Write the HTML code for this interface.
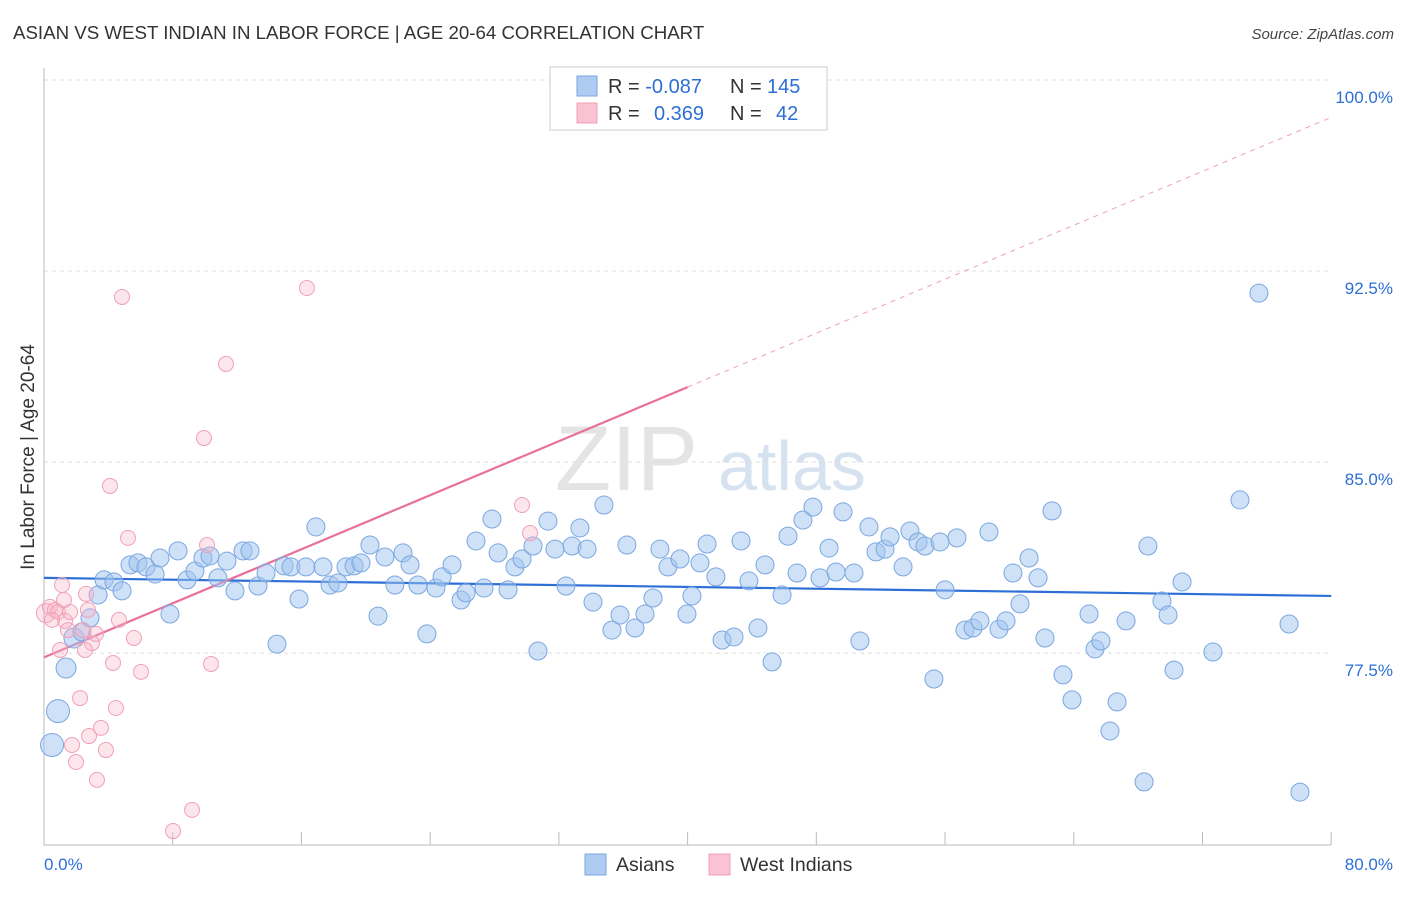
<!DOCTYPE html>
<html><head><meta charset="utf-8"><style>
body{margin:0;background:#fff;font-family:"Liberation Sans",sans-serif;}
svg text{font-family:"Liberation Sans",sans-serif;}
</style></head><body>
<svg id="chart" width="1406" height="892" xmlns="http://www.w3.org/2000/svg">
<text x="13" y="39" font-size="18.7" fill="#333">ASIAN VS WEST INDIAN IN LABOR FORCE | AGE 20-64 CORRELATION CHART</text>
<text x="1394" y="39" font-size="15" font-style="italic" fill="#444" text-anchor="end">Source: ZipAtlas.com</text>
<g><text x="555" y="490" font-size="92" font-family="Liberation Serif" fill="#e4e4e4">ZIP</text><text x="718" y="490" font-size="70" fill="#d6e2f0">atlas</text></g>
<g id="grid"></g>
<g id="axes"></g>
<text transform="translate(34,457) rotate(-90)" font-size="19" fill="#333" text-anchor="middle">In Labor Force | Age 20-64</text>
<g id="trends"></g>
<g id="pts"></g>
<g>
<rect x="550" y="67" width="277" height="63" fill="#fff" stroke="#ccc"/>
<rect x="577" y="76" width="20" height="20" fill="#aecbf2" stroke="#7aa7e0"/>
<rect x="577" y="103" width="20" height="20" fill="#f9c3d3" stroke="#f0a0b8"/>
<text x="608" y="93" font-size="20" fill="#333">R = <tspan fill="#2d6fd6">-0.087</tspan><tspan x="730">N = </tspan><tspan x="767" fill="#2d6fd6">145</tspan></text>
<text x="608" y="120" font-size="20" fill="#333">R = <tspan x="654" fill="#2d6fd6">0.369</tspan><tspan x="730">N = </tspan><tspan x="776" fill="#2d6fd6">42</tspan></text>
</g>
<g>
<rect x="585" y="854" width="21" height="21" fill="#aecbf2" stroke="#7aa7e0"/>
<text x="616" y="871" font-size="19.5" fill="#333">Asians</text>
<rect x="709" y="854" width="21" height="21" fill="#f9c3d3" stroke="#f0a0b8"/>
<text x="740" y="871" font-size="19.5" fill="#333">West Indians</text>
</g>
</svg>
<script>
const yTicks=[100,92.5,85,77.5];
const yTickLabels=["100.0%","92.5%","85.0%","77.5%"];
const xTicks=[0,8,16,24,32,40,48,56,64,72,80];
const asianX=[0.5,0.87,1.37,1.86,2.36,2.86,3.36,3.73,4.35,4.85,5.35,5.84,6.34,6.9,7.21,7.83,8.33,8.89,9.38,9.88,10.32,10.81,11.37,11.87,12.37,12.8,13.3,13.8,14.48,14.92,15.35,15.85,16.28,16.9,17.34,17.78,18.27,18.77,19.27,19.7,20.26,20.76,21.19,21.81,22.31,22.75,23.24,23.8,24.36,24.74,25.36,25.92,26.23,26.85,27.35,27.84,28.22,28.84,29.27,29.71,30.39,30.7,31.32,31.76,32.44,32.82,33.31,33.75,34.12,34.8,35.3,35.8,36.23,36.73,37.35,37.85,38.28,38.78,39.53,39.96,40.27,40.77,41.21,41.76,42.14,42.88,43.32,43.81,44.37,44.81,45.25,45.87,46.24,46.8,47.17,47.79,48.23,48.79,49.22,49.66,50.34,50.71,51.27,51.71,52.27,52.58,53.39,53.82,54.32,54.75,55.31,55.69,56,56.74,57.24,57.74,58.17,58.73,59.35,59.79,60.22,60.66,61.22,61.78,62.21,62.65,63.33,63.89,64.95,65.32,65.69,66.25,66.69,67.25,68.37,68.61,69.48,69.86,70.23,70.73,72.65,74.33,75.51,77.38,78.06];
const asianY=[74.56,75.89,77.58,78.76,79,79.55,80.45,81.04,80.96,80.61,81.63,81.71,81.55,81.27,81.9,79.7,82.18,81.04,81.39,81.9,81.98,81.12,81.78,80.61,82.18,82.18,80.8,81.31,78.52,81.59,81.55,80.29,81.55,83.12,81.55,80.84,80.92,81.55,81.59,81.71,82.41,79.62,81.94,80.84,82.1,81.63,80.84,78.92,80.72,81.16,81.63,80.25,80.53,82.57,80.72,83.43,82.1,80.65,81.55,81.86,82.37,78.25,83.35,82.25,80.8,82.37,83.08,82.25,80.17,83.98,79.07,79.66,82.41,79.15,79.7,80.33,82.25,81.55,81.86,79.7,80.41,81.71,82.45,81.16,78.68,78.8,82.57,81,79.15,81.63,77.82,80.45,82.76,81.31,83.39,83.9,81.12,82.29,81.35,83.71,81.31,78.64,83.12,82.14,82.25,82.73,81.55,82.96,82.53,82.37,77.15,82.53,80.65,82.69,79.07,79.15,79.43,82.92,79.11,79.43,81.31,80.1,81.9,81.12,78.76,83.75,77.31,76.33,79.7,78.33,78.64,75.11,76.25,79.43,73.11,82.37,80.21,79.66,77.5,80.96,78.21,84.18,92.3,79.31,72.71];
const wiX=[0.12,0.37,0.68,0.87,1.12,1.31,1.49,1.74,1.99,2.24,2.42,2.61,2.8,2.98,3.23,3.29,3.54,3.85,4.29,4.47,4.66,4.85,5.22,5.59,6.03,8.02,9.2,9.94,10.13,10.38,11.31,16.34,29.71,30.21,4.1,2.55,1.0,1.62,0.5,2.73,1.24];
const wiY=[79.74,79.98,79.86,79.78,80.84,79.43,79.07,74.56,73.89,76.4,79.07,80.49,74.91,78.56,78.92,73.19,75.23,74.36,77.78,76.01,79.47,92.15,82.69,78.76,77.43,71.18,72.01,86.61,82.41,77.74,89.52,92.5,83.98,82.88,84.73,78.29,78.29,79.78,79.47,79.86,80.25];
const blueTrendX=[0,80], blueTrendY=[81.12,80.41];
const pinkSolidX=[0,40], pinkSolidY=[78.0,88.61];
const pinkDashX=[40,80], pinkDashY=[88.61,99.2];

const NS="http://www.w3.org/2000/svg";
function xs(v){return 44+v*16.09;}
function ys(v){return 97+(100-v)*25.47;}
function mk(tag,attrs,parent){const e=document.createElementNS(NS,tag);for(const k in attrs)e.setAttribute(k,attrs[k]);parent.appendChild(e);return e;}
const grid=document.getElementById('grid'),axes=document.getElementById('axes');
yTicks.forEach((t,i)=>{
  const l=mk('line',{x1:44,x2:1331,y1:ys(t)-17,y2:ys(t)-17,stroke:'#ddd','stroke-dasharray':'4,4'},grid);
  
  
  const tx=mk('text',{x:1393,y:ys(t)+6,'font-size':17,fill:'#2d6fd6','text-anchor':'end'},axes);
  tx.textContent=yTickLabels[i];
  
  
});
mk('line',{x1:44,x2:44,y1:68,y2:845,stroke:'#bbb'},axes);
mk('line',{x1:44,x2:1331,y1:845,y2:845,stroke:'#bbb'},axes);
xTicks.forEach(t=>{
  const l=mk('line',{x1:xs(t),x2:xs(t),y1:832,y2:845,stroke:'#bbb'},axes);
  
  
});
const xl0=mk('text',{x:44,y:870,'font-size':17,fill:'#2d6fd6'},axes);xl0.textContent='0.0%';


const xl1=mk('text',{x:1393,y:870,'font-size':17,fill:'#2d6fd6','text-anchor':'end'},axes);xl1.textContent='80.0%';


const pts=document.getElementById('pts');
asianX.forEach((x,i)=>{
  const r=(i<2)?11.5:(i<4?10:9);
  const c=mk('circle',{cx:xs(x),cy:ys(asianY[i]),r:r,fill:'rgba(160,196,240,0.5)',stroke:'#7aa7e0','stroke-width':1},pts);
  
  
});
wiX.forEach((x,i)=>{
  const c=mk('circle',{cx:xs(x),cy:ys(wiY[i]),r:i==0?9.5:7.5,fill:'rgba(248,180,200,0.35)',stroke:'#f0a0b8','stroke-width':1},pts);
  
  
});
const tr=document.getElementById('trends');
const b=mk('line',{x1:xs(blueTrendX[0]),y1:ys(blueTrendY[0]),x2:xs(blueTrendX[1]),y2:ys(blueTrendY[1]),stroke:'#2d6fd6','stroke-width':2.2},tr);


const p=mk('line',{x1:xs(pinkSolidX[0]),y1:ys(pinkSolidY[0]),x2:xs(pinkSolidX[1]),y2:ys(pinkSolidY[1]),stroke:'#e8709a','stroke-width':2.2},tr);


const pd=mk('line',{x1:xs(pinkDashX[0]),y1:ys(pinkDashY[0]),x2:xs(pinkDashX[1]),y2:ys(pinkDashY[1]),stroke:'#f0a0b8','stroke-width':1,'stroke-dasharray':'5,5'},tr);


</script>
</body></html>
